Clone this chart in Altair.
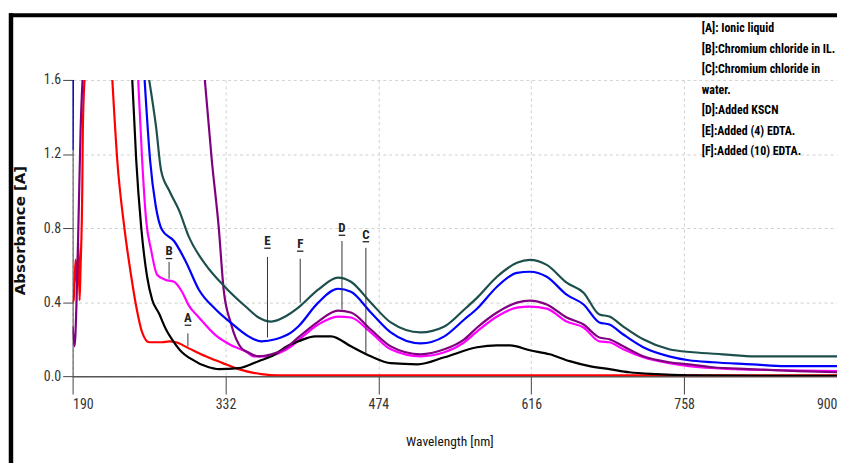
import altair as alt
import pandas as pd

SERIES = ["A", "B", "C", "D", "E", "F"]
COLORS = ["#ff0000", "#ff00ff", "#000000", "#800080", "#0000ff", "#1d504c"]

X_TICKS = [190, 332, 474, 616, 758, 900]
Y_TICKS = [0.0, 0.4, 0.8, 1.2, 1.6]

# [A] Ionic liquid (red)
A_SPIKE_WL = [190.0, 190.9, 192.8, 194.3, 195.3, 196.5, 197.4, 199.0, 199.5, 201.1]
A_SPIKE_ABS = [0.40, 0.41, 0.63, 0.48, 0.72, 0.41, 0.59, 1.02, 1.33, 1.60]
A_WL = [226.9, 231.5, 238.0, 244.5, 249.1, 254.6, 261.1, 273.1, 279.6, 286.0, 298.0,
        313.7, 332.2, 344.2, 365.4, 381.1, 500.0, 700.0, 900.0]
A_ABS = [1.60, 1.165, 0.805, 0.537, 0.376, 0.236, 0.183, 0.183, 0.188, 0.183, 0.150,
         0.107, 0.064, 0.038, 0.011, 0.004, 0.004, 0.004, 0.004]

# [B] Chromium chloride in IL (magenta)
B_WL = [250.9, 254.6, 258.3, 262.9, 268.5, 275.9, 284.2, 291.6, 298.0, 307.3, 323.0,
        337.7, 350.7, 358.0, 369.1, 381.1, 393.1, 399.6, 418.1, 436.5, 448.5, 467.0,
        485.5, 513.2, 535.3, 553.8, 565.8, 584.2, 602.7, 614.7, 630.4, 648.9, 664.6,
        679.3, 688.6, 701.5, 720.0, 744.0, 762.4, 805.8, 852.0, 900.0]
B_ABS = [1.60, 1.165, 0.843, 0.682, 0.548, 0.521, 0.510, 0.456, 0.381, 0.317, 0.220,
         0.166, 0.134, 0.107, 0.107, 0.123, 0.161, 0.193, 0.279, 0.322, 0.317, 0.236,
         0.145, 0.107, 0.129, 0.183, 0.242, 0.322, 0.370, 0.376, 0.365, 0.295, 0.263,
         0.188, 0.183, 0.145, 0.102, 0.070, 0.054, 0.038, 0.032, 0.027]

# [C] Chromium chloride in water (black)
C_WL = [245.4, 249.1, 253.7, 259.2, 263.9, 270.3, 276.8, 284.2, 291.6, 298.9, 316.5,
        325.7, 344.2, 362.7, 374.7, 390.4, 399.6, 415.3, 430.1, 448.5, 467.0, 485.5,
        510.4, 535.3, 565.8, 584.2, 596.3, 614.7, 633.2, 651.7, 670.1, 688.6, 707.1,
        732.0, 762.4, 830.8, 900.0]
C_ABS = [1.60, 1.165, 0.805, 0.537, 0.413, 0.338, 0.252, 0.183, 0.129, 0.097, 0.048,
         0.038, 0.043, 0.081, 0.107, 0.166, 0.188, 0.215, 0.215, 0.161, 0.107, 0.070,
         0.064, 0.102, 0.156, 0.166, 0.166, 0.140, 0.118, 0.081, 0.054, 0.038, 0.021,
         0.011, 0.005, 0.002, 0.002]

# [D] Added KSCN (purple)
D_SPIKE_WL = [190.0, 191.8, 193.7, 195.5, 197.4, 199.2]
D_SPIKE_ABS = [0.268, 0.161, 0.413, 0.843, 1.326, 1.60]
D_WL = [312.8, 319.3, 325.7, 330.3, 336.8, 347.0, 353.4, 362.7, 374.7, 387.6, 399.6,
        418.1, 436.5, 448.5, 467.0, 485.5, 513.2, 535.3, 553.8, 565.8, 584.2, 602.7,
        614.7, 630.4, 648.9, 664.6, 679.3, 688.6, 701.5, 720.0, 744.0, 762.4, 784.6,
        817.8, 864.0, 900.0]
D_ABS = [1.60, 1.165, 0.805, 0.467, 0.290, 0.150, 0.128, 0.107, 0.118, 0.150, 0.209,
         0.295, 0.354, 0.344, 0.252, 0.161, 0.118, 0.145, 0.199, 0.263, 0.344, 0.397,
         0.408, 0.387, 0.317, 0.279, 0.209, 0.199, 0.161, 0.107, 0.075, 0.064, 0.048,
         0.038, 0.027, 0.021]

# [E] Added (4) EDTA (blue)
E_SPIKE_WL = [190.0, 190.3]
E_SPIKE_ABS = [1.22, 1.60]
E_WL = [256.9, 262.0, 267.1, 273.1, 284.2, 295.3, 307.3, 323.0, 337.7, 353.4, 365.4,
        378.4, 393.1, 399.6, 418.1, 436.5, 448.5, 467.0, 485.5, 513.2, 535.3, 553.8,
        565.8, 584.2, 602.7, 614.7, 630.4, 648.9, 664.6, 679.3, 688.6, 701.5, 720.0,
        744.0, 762.4, 784.6, 821.5, 852.0, 900.0]
E_ABS = [1.60, 1.165, 0.923, 0.789, 0.730, 0.617, 0.467, 0.360, 0.285, 0.215, 0.188,
         0.199, 0.236, 0.268, 0.397, 0.472, 0.456, 0.344, 0.236, 0.177, 0.215, 0.306,
         0.365, 0.483, 0.558, 0.564, 0.537, 0.440, 0.387, 0.290, 0.279, 0.225, 0.156,
         0.107, 0.086, 0.075, 0.064, 0.054, 0.054]

# [F] Added (10) EDTA (dark teal)
F_WL = [261.1, 267.6, 272.2, 279.6, 288.8, 298.0, 313.7, 332.2, 350.7, 362.7, 374.7,
        387.6, 399.6, 418.1, 436.5, 448.5, 467.0, 485.5, 513.2, 535.3, 553.8, 565.8,
        584.2, 602.7, 614.7, 630.4, 648.9, 664.6, 679.3, 688.6, 701.5, 720.0, 744.0,
        766.1, 793.8, 824.3, 900.0]
F_ABS = [1.60, 1.342, 1.111, 1.004, 0.897, 0.752, 0.601, 0.478, 0.376, 0.317, 0.295,
         0.322, 0.370, 0.467, 0.532, 0.510, 0.397, 0.290, 0.236, 0.268, 0.360, 0.424,
         0.537, 0.612, 0.628, 0.601, 0.505, 0.451, 0.333, 0.322, 0.268, 0.199, 0.145,
         0.129, 0.118, 0.107, 0.107]

LEGEND_LINES = ["[A]: Ionic liquid", "[B]:Chromium chloride in IL.",
                "[C]:Chromium chloride in", "water.", "[D]:Added KSCN",
                "[E]:Added (4) EDTA.", "[F]:Added (10) EDTA."]

ANN_LABELS = ["B", "A", "E", "F", "D", "C"]
ANN_WL = [279.6, 297.1, 371.0, 401.4, 440.2, 462.4]
ANN_LABEL_ABS = [0.674, 0.314, 0.730, 0.714, 0.800, 0.765]
ANN_LINE_TOP = [0.617, 0.231, 0.644, 0.634, 0.730, 0.693]
ANN_LINE_END = [0.526, 0.161, 0.209, 0.397, 0.360, 0.123]

NARROW = ("Noto Sans Condensed, Noto Sans ExtraCondensed, Noto Sans SemiCondensed, "
          "Liberation Sans Narrow, Roboto Condensed, Liberation Sans, sans-serif")

curves = [
    ("A", [(A_SPIKE_WL, A_SPIKE_ABS), (A_WL, A_ABS)]),
    ("B", [(B_WL, B_ABS)]),
    ("C", [(C_WL, C_ABS)]),
    ("D", [(D_SPIKE_WL, D_SPIKE_ABS), (D_WL, D_ABS)]),
    ("E", [(E_SPIKE_WL, E_SPIKE_ABS), (E_WL, E_ABS)]),
    ("F", [(F_WL, F_ABS)]),
]
rows = []
for name, segs in curves:
    for si, (wl, ab) in enumerate(segs):
        for w, a in zip(wl, ab):
            rows.append({"series": name, "key": f"{name}{si}", "wl": w, "abs": a})
df = pd.DataFrame(rows)

ann = pd.DataFrame({"label": ANN_LABELS, "wl": ANN_WL, "lab": ANN_LABEL_ABS,
                    "top": ANN_LINE_TOP, "end": ANN_LINE_END})

x_scale = alt.Scale(domain=[190, 900], nice=False, zero=False)
y_scale = alt.Scale(domain=[0, 1.6], nice=False, zero=False)

x_axis = alt.Axis(values=X_TICKS, title="Wavelength [nm]", titleX=379, titleY=66,
                  titleAlign="center", titleBaseline="middle", titleFont=NARROW,
                  titleFontSize=13.5, titleFontWeight="normal", titleColor="#111",
                  labelFont=NARROW, labelFontSize=14, labelColor="#333", labelPadding=4,
                  tickSize=18, tickColor="#444", domainColor="#555", domainWidth=1.5,
                  grid=True, gridDash=[3, 3], gridColor="#d0d0d0", labelOverlap=False)
y_axis = alt.Axis(values=Y_TICKS, format=".1f", title="Absorbance [A]", titleX=-53,
                  titleY=151, titleAngle=270, titleAlign="center", titleBaseline="middle",
                  titleFont="DejaVu Sans", titleFontSize=15, titleFontWeight="bold",
                  titleColor="#111", labelFont=NARROW, labelFontSize=14, labelColor="#333",
                  labelPadding=2, tickSize=10, tickColor="#444", domainColor="#444",
                  grid=True, gridDash=[3, 3], gridColor="#d0d0d0", labelOverlap=False)


def X(field):
    return alt.X(field, type="quantitative", scale=x_scale, axis=x_axis)


def Y(field):
    return alt.Y(field, type="quantitative", scale=y_scale, axis=y_axis)


lines = alt.Chart(df).mark_line(strokeWidth=2.2, clip=True, strokeJoin="round",
                                interpolate="monotone").encode(
    x=X("wl"), y=Y("abs"),
    color=alt.Color("series:N", scale=alt.Scale(domain=SERIES, range=COLORS), legend=None),
    detail="key:N",
)

ann_base = alt.Chart(ann)
leaders = ann_base.mark_rule(color="#333", strokeWidth=1).encode(
    x=X("wl"), y=Y("top"), y2="end:Q")
underline = ann_base.transform_calculate(
    ul="datum.lab - 0.039", w1="datum.wl - 3.0", w2="datum.wl + 3.0"
).mark_rule(color="#222", strokeWidth=1.3).encode(x=X("w1"), x2="w2:Q", y=Y("ul"))
labels = ann_base.mark_text(font=NARROW, fontSize=13, fontWeight="bold", color="#222",
                            align="center", baseline="middle").encode(
    x=X("wl"), y=Y("lab"), text="label:N")

one = pd.DataFrame({"k": [0]})
legend_layers = []
for i, line in enumerate(LEGEND_LINES):
    legend_layers.append(
        alt.Chart(one).mark_text(font=NARROW, fontSize=12, fontWeight="bold",
                                 color="#000", align="left", baseline="middle").encode(
            x=alt.value(633), y=alt.value(-52 + i * 20.6), text=alt.value(line))
    )

border_left = alt.Chart(one).mark_rule(color="#000", strokeWidth=4.5).encode(
    x=alt.value(-62), y=alt.value(-67), y2=alt.value(400))
border_top = alt.Chart(one).mark_rule(color="#000", strokeWidth=4).encode(
    x=alt.value(-64), x2=alt.value(780), y=alt.value(-65))

chart = alt.layer(lines, leaders, underline, labels, *legend_layers, border_left,
                  border_top).properties(
    width=769, height=298,
    autosize=alt.AutoSizeParams(type="none"),
    padding={"left": 65, "top": 71, "right": 0, "bottom": 86},
    background="white",
).configure_view(strokeWidth=0)

chart.save("out.html", embed_options={"renderer": "svg", "actions": False})
